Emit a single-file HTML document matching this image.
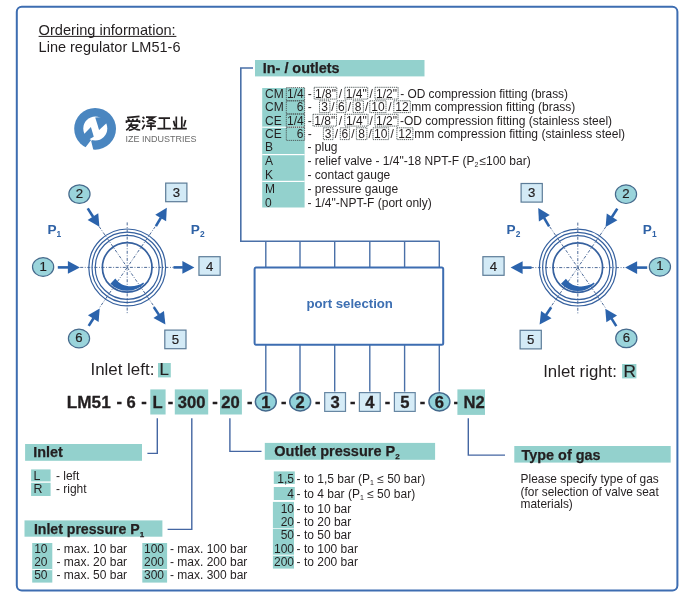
<!DOCTYPE html><html><head><meta charset="utf-8"><style>html,body{margin:0;padding:0;background:#fff;overflow:hidden;}svg{display:block;will-change:transform;}text{font-family:"Liberation Sans", sans-serif;}</style></head><body>
<svg width="691" height="598" viewBox="0 0 691 598">
<rect x="16.8" y="6.8" width="660.6" height="583.8" rx="5" ry="5" fill="none" stroke="#3d6db1" stroke-width="2"/>
<text x="38.6" y="34.7" font-size="14.6" fill="#231f20">Ordering information:</text>
<line x1="38.6" y1="36.4" x2="176.4" y2="36.4" stroke="#231f20" stroke-width="1"/>
<text x="38.6" y="51.9" font-size="14.5" fill="#231f20">Line regulator LM51-6</text>
<circle cx="95.1" cy="128.8" r="20.9" fill="#4a86c0"/>
<circle cx="95.3" cy="128.4" r="12" fill="#fff"/>
<polygon points="95.2,117.6 99.1,129.9 107.5,122.2 104,117" fill="#4a86c0"/>
<polygon points="83.2,135 90.9,126.9 93.8,136.8 88,140" fill="#4a86c0"/>
<polygon points="84.8,148.2 94.4,135.8 91.2,141.2 93.6,151" fill="#fff"/>
<g fill="none" stroke="#231f20" stroke-width="1.7" stroke-linecap="butt">
<path d="M127,117.6 L139.5,116.4 M128.2,118.8 L129.4,120.8 M132.6,118.8 L133.2,120.8 M137.6,118.6 L136.4,120.8 M126.5,123 V121.2 H139.5 V123 M128.4,125.2 H138.4 M131.6,122.4 Q130.4,127.6 126.2,130.2 M130.4,125.2 Q134,129.6 140.2,130 M138,125.2 Q134.6,129.4 128.8,130.4"/>
<path d="M142.6,117 L144.4,118.6 M142.2,120.6 L144,122.2 M142.2,129.4 L144.8,124.6 M146,117.2 H154.4 L146.8,121.9 M148.4,118.4 L155.9,121.9 M147.4,123.4 H154.6 M146.2,126.1 H155.9 M151,122.2 V130.2"/>
<path d="M158.6,118.1 H170 M164.3,118.1 V128.6 M157.4,128.6 H170.9"/>
<path d="M176.3,116.4 V128.6 M181.8,116.4 V128.6 M173.6,120.8 L175,126.4 M185.6,120 L183.8,126.4 M172.6,128.6 H186.8"/>
</g>
<text x="125.4" y="141.6" font-size="9.4" fill="#6a6a6a" textLength="71" lengthAdjust="spacingAndGlyphs">IZE INDUSTRIES</text>
<rect x="255" y="60" width="169.5" height="16.4" fill="#93d1cd"/>
<text x="262.8" y="72.8" font-size="14.4" font-weight="bold" fill="#231f20" stroke="#231f20" stroke-width="0.25">In- / outlets</text>
<polyline points="253,68 240.8,68 240.8,241.3 439.5,241.3" fill="none" stroke="#4a70a8" stroke-width="1.6"/>
<rect x="262.2" y="88" width="42.4" height="119.5" fill="#93d1cd"/>
<rect x="262.2" y="126.60000000000001" width="42.4" height="1.2" fill="#fff"/>
<rect x="262.2" y="154.0" width="42.4" height="1.2" fill="#fff"/>
<rect x="262.2" y="180.8" width="42.4" height="1.2" fill="#fff"/>
<text x="265" y="97.5" font-size="12" fill="#231f20">CM</text>
<text x="265" y="111.0" font-size="12" fill="#231f20">CM</text>
<text x="265" y="124.5" font-size="12" fill="#231f20">CE</text>
<text x="265" y="138.0" font-size="12" fill="#231f20">CE</text>
<text x="265" y="150.6" font-size="12" fill="#231f20">B</text>
<text x="265" y="165.2" font-size="12" fill="#231f20">A</text>
<text x="265" y="179.2" font-size="12" fill="#231f20">K</text>
<text x="265" y="192.8" font-size="12" fill="#231f20">M</text>
<text x="265" y="206.7" font-size="12" fill="#231f20">0</text>
<rect x="286.3" y="87.6" width="18.30000000000001" height="13.2" fill="none" stroke="#4a5454" stroke-width="0.9" stroke-dasharray="1.3,0.8"/>
<text x="295.45000000000005" y="97.5" font-size="12" text-anchor="middle" fill="#231f20">1/4</text>
<text x="307.8" y="97.5" font-size="12" fill="#231f20">-</text>
<rect x="286.3" y="100.8" width="18.30000000000001" height="13.2" fill="none" stroke="#4a5454" stroke-width="0.9" stroke-dasharray="1.3,0.8"/>
<text x="303.40000000000003" y="111.0" font-size="12" text-anchor="end" fill="#231f20">6</text>
<text x="307.8" y="111.0" font-size="12" fill="#231f20">-</text>
<rect x="286.3" y="114.0" width="18.30000000000001" height="13.2" fill="none" stroke="#4a5454" stroke-width="0.9" stroke-dasharray="1.3,0.8"/>
<text x="295.45000000000005" y="124.5" font-size="12" text-anchor="middle" fill="#231f20">1/4</text>
<text x="307.8" y="124.5" font-size="12" fill="#231f20">-</text>
<rect x="286.3" y="127.19999999999999" width="18.30000000000001" height="13.2" fill="none" stroke="#4a5454" stroke-width="0.9" stroke-dasharray="1.3,0.8"/>
<text x="303.40000000000003" y="138.0" font-size="12" text-anchor="end" fill="#231f20">6</text>
<text x="307.8" y="138.0" font-size="12" fill="#231f20">-</text>
<rect x="314.2" y="87.3" width="22.600000000000023" height="11.8" fill="none" stroke="#4a5454" stroke-width="0.9" stroke-dasharray="1.3,0.8"/>
<text x="325.5" y="97.5" font-size="12" text-anchor="middle" fill="#231f20">1/8&quot;</text>
<text x="338.8" y="97.5" font-size="12" fill="#231f20">/</text>
<rect x="344.8" y="87.3" width="22.899999999999977" height="11.8" fill="none" stroke="#4a5454" stroke-width="0.9" stroke-dasharray="1.3,0.8"/>
<text x="356.25" y="97.5" font-size="12" text-anchor="middle" fill="#231f20">1/4&quot;</text>
<text x="369.4" y="97.5" font-size="12" fill="#231f20">/</text>
<rect x="375" y="87.3" width="23.100000000000023" height="11.8" fill="none" stroke="#4a5454" stroke-width="0.9" stroke-dasharray="1.3,0.8"/>
<text x="386.55" y="97.5" font-size="12" text-anchor="middle" fill="#231f20">1/2&quot;</text>
<text x="400.2" y="97.5" font-size="11.9" fill="#231f20">- OD compression fitting (brass)</text>
<rect x="319.5" y="100.8" width="10.399999999999977" height="11.8" fill="none" stroke="#4a5454" stroke-width="0.9" stroke-dasharray="1.3,0.8"/>
<text x="324.7" y="111.0" font-size="12" text-anchor="middle" fill="#231f20">3</text>
<text x="331.3" y="111.0" font-size="12" fill="#231f20">/</text>
<rect x="336.8" y="100.8" width="9.199999999999989" height="11.8" fill="none" stroke="#4a5454" stroke-width="0.9" stroke-dasharray="1.3,0.8"/>
<text x="341.4" y="111.0" font-size="12" text-anchor="middle" fill="#231f20">6</text>
<text x="347.8" y="111.0" font-size="12" fill="#231f20">/</text>
<rect x="353" y="100.8" width="10.399999999999977" height="11.8" fill="none" stroke="#4a5454" stroke-width="0.9" stroke-dasharray="1.3,0.8"/>
<text x="358.2" y="111.0" font-size="12" text-anchor="middle" fill="#231f20">8</text>
<text x="365" y="111.0" font-size="12" fill="#231f20">/</text>
<rect x="369.8" y="100.8" width="16.19999999999999" height="11.8" fill="none" stroke="#4a5454" stroke-width="0.9" stroke-dasharray="1.3,0.8"/>
<text x="377.9" y="111.0" font-size="12" text-anchor="middle" fill="#231f20">10</text>
<text x="388.2" y="111.0" font-size="12" fill="#231f20">/</text>
<rect x="393.8" y="100.8" width="16.5" height="11.8" fill="none" stroke="#4a5454" stroke-width="0.9" stroke-dasharray="1.3,0.8"/>
<text x="402.05" y="111.0" font-size="12" text-anchor="middle" fill="#231f20">12</text>
<text x="411.3" y="111.0" font-size="12" fill="#231f20">mm compression fitting (brass)</text>
<rect x="313" y="114.3" width="23.5" height="11.8" fill="none" stroke="#4a5454" stroke-width="0.9" stroke-dasharray="1.3,0.8"/>
<text x="324.75" y="124.5" font-size="12" text-anchor="middle" fill="#231f20">1/8&quot;</text>
<text x="338.8" y="124.5" font-size="12" fill="#231f20">/</text>
<rect x="344.8" y="114.3" width="23.19999999999999" height="11.8" fill="none" stroke="#4a5454" stroke-width="0.9" stroke-dasharray="1.3,0.8"/>
<text x="356.4" y="124.5" font-size="12" text-anchor="middle" fill="#231f20">1/4&quot;</text>
<text x="369.6" y="124.5" font-size="12" fill="#231f20">/</text>
<rect x="375" y="114.3" width="23" height="11.8" fill="none" stroke="#4a5454" stroke-width="0.9" stroke-dasharray="1.3,0.8"/>
<text x="386.5" y="124.5" font-size="12" text-anchor="middle" fill="#231f20">1/2&quot;</text>
<text x="400" y="124.5" font-size="12.0" fill="#231f20">-OD compression fitting (stainless steel)</text>
<rect x="323.4" y="127.8" width="9.600000000000023" height="11.8" fill="none" stroke="#4a5454" stroke-width="0.9" stroke-dasharray="1.3,0.8"/>
<text x="328.2" y="138.0" font-size="12" text-anchor="middle" fill="#231f20">3</text>
<text x="334.8" y="138.0" font-size="12" fill="#231f20">/</text>
<rect x="340.3" y="127.8" width="9.199999999999989" height="11.8" fill="none" stroke="#4a5454" stroke-width="0.9" stroke-dasharray="1.3,0.8"/>
<text x="344.9" y="138.0" font-size="12" text-anchor="middle" fill="#231f20">6</text>
<text x="351.3" y="138.0" font-size="12" fill="#231f20">/</text>
<rect x="356.4" y="127.8" width="10.5" height="11.8" fill="none" stroke="#4a5454" stroke-width="0.9" stroke-dasharray="1.3,0.8"/>
<text x="361.65" y="138.0" font-size="12" text-anchor="middle" fill="#231f20">8</text>
<text x="368.6" y="138.0" font-size="12" fill="#231f20">/</text>
<rect x="373" y="127.8" width="15.600000000000023" height="11.8" fill="none" stroke="#4a5454" stroke-width="0.9" stroke-dasharray="1.3,0.8"/>
<text x="380.8" y="138.0" font-size="12" text-anchor="middle" fill="#231f20">10</text>
<text x="390.6" y="138.0" font-size="12" fill="#231f20">/</text>
<rect x="396.9" y="127.8" width="16.0" height="11.8" fill="none" stroke="#4a5454" stroke-width="0.9" stroke-dasharray="1.3,0.8"/>
<text x="404.9" y="138.0" font-size="12" text-anchor="middle" fill="#231f20">12</text>
<text x="414.2" y="138.0" font-size="12.05" fill="#231f20">mm compression fitting (stainless steel)</text>
<text x="307.5" y="150.6" font-size="12" fill="#231f20">- plug</text>
<text x="307.5" y="165.2" font-size="12" fill="#231f20">- relief valve - 1/4&quot;-18 NPT-F (P<tspan font-size="7" dy="2">2</tspan><tspan dy="-2" dx="1">≤100 bar)</tspan></text>
<text x="307.5" y="179.2" font-size="12" fill="#231f20">- contact gauge</text>
<text x="307.5" y="192.8" font-size="12" fill="#231f20">- pressure gauge</text>
<text x="307.5" y="206.7" font-size="12" fill="#231f20">- 1/4&quot;-NPT-F (port only)</text>
<line x1="265.8" y1="241.3" x2="265.8" y2="267.5" stroke="#4a70a8" stroke-width="1.4"/>
<line x1="265.8" y1="344" x2="265.8" y2="391.6" stroke="#4a70a8" stroke-width="1.4"/>
<line x1="300" y1="241.3" x2="300" y2="267.5" stroke="#4a70a8" stroke-width="1.4"/>
<line x1="300" y1="344" x2="300" y2="391.6" stroke="#4a70a8" stroke-width="1.4"/>
<line x1="334.7" y1="241.3" x2="334.7" y2="267.5" stroke="#4a70a8" stroke-width="1.4"/>
<line x1="334.7" y1="344" x2="334.7" y2="391.6" stroke="#4a70a8" stroke-width="1.4"/>
<line x1="369.8" y1="241.3" x2="369.8" y2="267.5" stroke="#4a70a8" stroke-width="1.4"/>
<line x1="369.8" y1="344" x2="369.8" y2="391.6" stroke="#4a70a8" stroke-width="1.4"/>
<line x1="404.6" y1="241.3" x2="404.6" y2="267.5" stroke="#4a70a8" stroke-width="1.4"/>
<line x1="404.6" y1="344" x2="404.6" y2="391.6" stroke="#4a70a8" stroke-width="1.4"/>
<line x1="439.3" y1="241.3" x2="439.3" y2="267.5" stroke="#4a70a8" stroke-width="1.4"/>
<line x1="439.3" y1="344" x2="439.3" y2="391.6" stroke="#4a70a8" stroke-width="1.4"/>
<rect x="254.6" y="267.4" width="188.6" height="77.3" rx="1.5" fill="#fff" stroke="#3d6db1" stroke-width="2"/>
<text x="349.7" y="308" font-size="13.2" font-weight="bold" text-anchor="middle" fill="#3d6fb2">port selection</text>
<line x1="80.2" y1="267.4" x2="173.7" y2="267.4" stroke="#3a5a8c" stroke-width="0.9" stroke-dasharray="3,1.6,0.9,1.6"/>
<line x1="127.2" y1="222.39999999999998" x2="127.2" y2="314.4" stroke="#3a5a8c" stroke-width="0.9" stroke-dasharray="3,1.6,0.9,1.6"/>
<line x1="99.16289127222078" y1="226.6057536632102" x2="155.23710872777923" y2="308.1942463367898" stroke="#3a5a8c" stroke-width="0.9" stroke-dasharray="3,1.6,0.9,1.6"/>
<line x1="155.23710872777923" y1="226.6057536632102" x2="99.16289127222078" y2="308.1942463367898" stroke="#3a5a8c" stroke-width="0.9" stroke-dasharray="3,1.6,0.9,1.6"/>
<circle cx="127.2" cy="267.4" r="38.4" fill="none" stroke="#36619f" stroke-width="1.2"/>
<circle cx="127.2" cy="267.4" r="35.2" fill="none" stroke="#36619f" stroke-width="1.2"/>
<circle cx="127.2" cy="267.4" r="32.0" fill="none" stroke="#36619f" stroke-width="1.2"/>
<circle cx="127.2" cy="267.4" r="24.8" fill="none" stroke="#36619f" stroke-width="1.7"/>
<path d="M110.37,283.66 A23.4,23.4 0 0 0 144.03,283.66 L143.29,282.40 C135.20,288.20 121.20,287.80 115.35,278.45 Z" fill="#2b63ac"/>
<line x1="57.80" y1="267.40" x2="68.40" y2="267.40" stroke="#2b63ac" stroke-width="2.6"/>
<polygon points="79.90,267.40 67.90,273.70 67.90,261.10" fill="#2b63ac"/>
<line x1="173.50" y1="267.40" x2="182.90" y2="267.40" stroke="#2b63ac" stroke-width="2.6"/>
<polygon points="194.40,267.40 182.40,273.70 182.40,261.10" fill="#2b63ac"/>
<line x1="87.70" y1="208.40" x2="93.21" y2="217.01" stroke="#2b63ac" stroke-width="2.6"/>
<polygon points="99.40,226.70 87.63,219.98 98.24,213.20" fill="#2b63ac"/>
<line x1="155.90" y1="226.10" x2="160.94" y2="217.59" stroke="#2b63ac" stroke-width="2.6"/>
<polygon points="166.80,207.70 166.10,221.24 155.26,214.81" fill="#2b63ac"/>
<line x1="88.70" y1="325.90" x2="93.55" y2="318.22" stroke="#2b63ac" stroke-width="2.6"/>
<polygon points="99.70,308.50 98.61,322.01 87.96,315.28" fill="#2b63ac"/>
<line x1="153.80" y1="307.10" x2="159.00" y2="314.85" stroke="#2b63ac" stroke-width="2.6"/>
<polygon points="165.40,324.40 153.48,317.94 163.95,310.92" fill="#2b63ac"/>
<line x1="530.8" y1="267.6" x2="624.3" y2="267.6" stroke="#3a5a8c" stroke-width="0.9" stroke-dasharray="3,1.6,0.9,1.6"/>
<line x1="577.8" y1="222.60000000000002" x2="577.8" y2="314.6" stroke="#3a5a8c" stroke-width="0.9" stroke-dasharray="3,1.6,0.9,1.6"/>
<line x1="549.7628912722207" y1="226.80575366321025" x2="605.8371087277792" y2="308.3942463367898" stroke="#3a5a8c" stroke-width="0.9" stroke-dasharray="3,1.6,0.9,1.6"/>
<line x1="605.8371087277792" y1="226.80575366321025" x2="549.7628912722207" y2="308.3942463367898" stroke="#3a5a8c" stroke-width="0.9" stroke-dasharray="3,1.6,0.9,1.6"/>
<circle cx="577.8" cy="267.6" r="38.4" fill="none" stroke="#36619f" stroke-width="1.2"/>
<circle cx="577.8" cy="267.6" r="35.2" fill="none" stroke="#36619f" stroke-width="1.2"/>
<circle cx="577.8" cy="267.6" r="32.0" fill="none" stroke="#36619f" stroke-width="1.2"/>
<circle cx="577.8" cy="267.6" r="24.8" fill="none" stroke="#36619f" stroke-width="1.7"/>
<path d="M560.97,283.86 A23.4,23.4 0 0 0 594.63,283.86 L593.89,282.60 C585.80,288.40 571.80,288.00 565.95,278.65 Z" fill="#2b63ac"/>
<line x1="647.20" y1="267.60" x2="636.60" y2="267.60" stroke="#2b63ac" stroke-width="2.6"/>
<polygon points="625.10,267.60 637.10,261.30 637.10,273.90" fill="#2b63ac"/>
<line x1="531.50" y1="267.60" x2="522.10" y2="267.60" stroke="#2b63ac" stroke-width="2.6"/>
<polygon points="510.60,267.60 522.60,261.30 522.60,273.90" fill="#2b63ac"/>
<line x1="617.30" y1="208.60" x2="611.79" y2="217.21" stroke="#2b63ac" stroke-width="2.6"/>
<polygon points="605.60,226.90 606.76,213.40 617.37,220.18" fill="#2b63ac"/>
<line x1="549.10" y1="226.30" x2="544.06" y2="217.79" stroke="#2b63ac" stroke-width="2.6"/>
<polygon points="538.20,207.90 549.74,215.01 538.90,221.44" fill="#2b63ac"/>
<line x1="616.30" y1="326.10" x2="611.45" y2="318.42" stroke="#2b63ac" stroke-width="2.6"/>
<polygon points="605.30,308.70 617.04,315.48 606.39,322.21" fill="#2b63ac"/>
<line x1="551.20" y1="307.30" x2="546.00" y2="315.05" stroke="#2b63ac" stroke-width="2.6"/>
<polygon points="539.60,324.60 541.05,311.12 551.52,318.14" fill="#2b63ac"/>
<ellipse cx="43.1" cy="267" rx="10.6" ry="9.3" fill="#9ad4db" stroke="#466a8c" stroke-width="1.2"/>
<text x="43.1" y="270.6" font-size="13.2" text-anchor="middle" fill="#231f20" stroke="#231f20" stroke-width="0.2">1</text>
<ellipse cx="79.45" cy="194.1" rx="10.6" ry="9.3" fill="#9ad4db" stroke="#466a8c" stroke-width="1.2"/>
<text x="79.45" y="197.7" font-size="13.2" text-anchor="middle" fill="#231f20" stroke="#231f20" stroke-width="0.2">2</text>
<ellipse cx="79" cy="338.5" rx="10.6" ry="9.3" fill="#9ad4db" stroke="#466a8c" stroke-width="1.2"/>
<text x="79" y="342.1" font-size="13.2" text-anchor="middle" fill="#231f20" stroke="#231f20" stroke-width="0.2">6</text>
<rect x="165.70000000000002" y="183.1" width="21.2" height="18.6" fill="#d3eaf6" stroke="#5c7c98" stroke-width="1.2"/>
<text x="176.3" y="196.9" font-size="13.2" text-anchor="middle" fill="#231f20" stroke="#231f20" stroke-width="0.2">3</text>
<rect x="198.95000000000002" y="256.7" width="21.2" height="18.6" fill="#d3eaf6" stroke="#5c7c98" stroke-width="1.2"/>
<text x="209.55" y="270.5" font-size="13.2" text-anchor="middle" fill="#231f20" stroke="#231f20" stroke-width="0.2">4</text>
<rect x="164.8" y="330.09999999999997" width="21.2" height="18.6" fill="#d3eaf6" stroke="#5c7c98" stroke-width="1.2"/>
<text x="175.4" y="343.9" font-size="13.2" text-anchor="middle" fill="#231f20" stroke="#231f20" stroke-width="0.2">5</text>
<ellipse cx="659.9" cy="266.8" rx="10.6" ry="9.3" fill="#9ad4db" stroke="#466a8c" stroke-width="1.2"/>
<text x="659.9" y="270.40000000000003" font-size="13.2" text-anchor="middle" fill="#231f20" stroke="#231f20" stroke-width="0.2">1</text>
<ellipse cx="626" cy="194.2" rx="10.6" ry="9.3" fill="#9ad4db" stroke="#466a8c" stroke-width="1.2"/>
<text x="626" y="197.79999999999998" font-size="13.2" text-anchor="middle" fill="#231f20" stroke="#231f20" stroke-width="0.2">2</text>
<ellipse cx="626.3" cy="338.4" rx="10.6" ry="9.3" fill="#9ad4db" stroke="#466a8c" stroke-width="1.2"/>
<text x="626.3" y="342.0" font-size="13.2" text-anchor="middle" fill="#231f20" stroke="#231f20" stroke-width="0.2">6</text>
<rect x="521.1" y="183.5" width="21.2" height="18.6" fill="#d3eaf6" stroke="#5c7c98" stroke-width="1.2"/>
<text x="531.7" y="197.3" font-size="13.2" text-anchor="middle" fill="#231f20" stroke="#231f20" stroke-width="0.2">3</text>
<rect x="482.9" y="256.7" width="21.2" height="18.6" fill="#d3eaf6" stroke="#5c7c98" stroke-width="1.2"/>
<text x="493.5" y="270.5" font-size="13.2" text-anchor="middle" fill="#231f20" stroke="#231f20" stroke-width="0.2">4</text>
<rect x="520.1" y="330.3" width="21.2" height="18.6" fill="#d3eaf6" stroke="#5c7c98" stroke-width="1.2"/>
<text x="530.7" y="344.1" font-size="13.2" text-anchor="middle" fill="#231f20" stroke="#231f20" stroke-width="0.2">5</text>
<text x="47.4" y="233.8" font-size="13.6" font-weight="bold" fill="#2f62a6">P<tspan font-size="8.4" dy="3">1</tspan></text>
<text x="190.8" y="234.2" font-size="13.6" font-weight="bold" fill="#2f62a6">P<tspan font-size="8.4" dy="3">2</tspan></text>
<text x="506.6" y="234.2" font-size="13.6" font-weight="bold" fill="#2f62a6">P<tspan font-size="8.4" dy="3">2</tspan></text>
<text x="642.8" y="234.2" font-size="13.6" font-weight="bold" fill="#2f62a6">P<tspan font-size="8.4" dy="3">1</tspan></text>
<text x="90.5" y="375.4" font-size="16.9" fill="#231f20">Inlet left:</text>
<rect x="158" y="363" width="12.8" height="14.4" fill="#93d1cd"/>
<text x="159.6" y="375.4" font-size="16.9" fill="#231f20" stroke="#231f20" stroke-width="0.2">L</text>
<text x="543.2" y="376.8" font-size="16.8" fill="#231f20">Inlet right:</text>
<rect x="622.1" y="364" width="14.3" height="14.4" fill="#93d1cd"/>
<text x="623.4" y="376.8" font-size="17.2" fill="#231f20" stroke="#231f20" stroke-width="0.2">R</text>
<text x="66.8" y="407.5" font-size="17.2" font-weight="bold" fill="#231f20" stroke="#231f20" stroke-width="0.3">LM51</text>
<text x="116.6" y="407.0" font-size="16.6" font-weight="bold" fill="#231f20" stroke="#231f20" stroke-width="0.3">-</text>
<text x="126.6" y="407.5" font-size="16.6" font-weight="bold" fill="#231f20" stroke="#231f20" stroke-width="0.3">6</text>
<text x="141.2" y="407.0" font-size="16.6" font-weight="bold" fill="#231f20" stroke="#231f20" stroke-width="0.3">-</text>
<rect x="150.3" y="389.4" width="15.3" height="25.1" fill="#93d1cd"/>
<text x="152.4" y="407.5" font-size="16.6" font-weight="bold" fill="#231f20" stroke="#231f20" stroke-width="0.3">L</text>
<text x="167.8" y="407.0" font-size="16.6" font-weight="bold" fill="#231f20" stroke="#231f20" stroke-width="0.3">-</text>
<rect x="174.8" y="389.4" width="33.4" height="25.1" fill="#93d1cd"/>
<text x="177.8" y="407.5" font-size="16.6" font-weight="bold" fill="#231f20" stroke="#231f20" stroke-width="0.3">300</text>
<text x="212.2" y="407.0" font-size="16.6" font-weight="bold" fill="#231f20" stroke="#231f20" stroke-width="0.3">-</text>
<rect x="220" y="389.4" width="21.9" height="25.1" fill="#93d1cd"/>
<text x="221.2" y="407.5" font-size="16.6" font-weight="bold" fill="#231f20" stroke="#231f20" stroke-width="0.3">20</text>
<text x="247" y="407.0" font-size="16.6" font-weight="bold" fill="#231f20" stroke="#231f20" stroke-width="0.3">-</text>
<ellipse cx="265.8" cy="401.8" rx="10.45" ry="9.1" fill="#91d2da" stroke="#44698c" stroke-width="1.5"/>
<text x="265.8" y="407.90000000000003" font-size="16.6" font-weight="bold" text-anchor="middle" fill="#231f20" stroke="#231f20" stroke-width="0.3">1</text>
<ellipse cx="300.2" cy="401.8" rx="10.45" ry="9.1" fill="#91d2da" stroke="#44698c" stroke-width="1.5"/>
<text x="300.2" y="407.90000000000003" font-size="16.6" font-weight="bold" text-anchor="middle" fill="#231f20" stroke="#231f20" stroke-width="0.3">2</text>
<rect x="324.70000000000005" y="392.6" width="20.8" height="18.8" fill="#d6ecf7" stroke="#6787a3" stroke-width="1.2"/>
<text x="335.1" y="407.9" font-size="16.6" font-weight="bold" text-anchor="middle" fill="#231f20" stroke="#231f20" stroke-width="0.3">3</text>
<rect x="359.40000000000003" y="392.6" width="20.8" height="18.8" fill="#d6ecf7" stroke="#6787a3" stroke-width="1.2"/>
<text x="369.8" y="407.9" font-size="16.6" font-weight="bold" text-anchor="middle" fill="#231f20" stroke="#231f20" stroke-width="0.3">4</text>
<rect x="394.40000000000003" y="392.6" width="20.8" height="18.8" fill="#d6ecf7" stroke="#6787a3" stroke-width="1.2"/>
<text x="404.8" y="407.9" font-size="16.6" font-weight="bold" text-anchor="middle" fill="#231f20" stroke="#231f20" stroke-width="0.3">5</text>
<ellipse cx="439.4" cy="401.8" rx="10.45" ry="9.1" fill="#91d2da" stroke="#44698c" stroke-width="1.5"/>
<text x="439.4" y="407.90000000000003" font-size="16.6" font-weight="bold" text-anchor="middle" fill="#231f20" stroke="#231f20" stroke-width="0.3">6</text>
<text x="280.9" y="407.0" font-size="16.6" font-weight="bold" fill="#231f20" stroke="#231f20" stroke-width="0.3">-</text>
<text x="315.1" y="407.0" font-size="16.6" font-weight="bold" fill="#231f20" stroke="#231f20" stroke-width="0.3">-</text>
<text x="349.9" y="407.0" font-size="16.6" font-weight="bold" fill="#231f20" stroke="#231f20" stroke-width="0.3">-</text>
<text x="384.8" y="407.0" font-size="16.6" font-weight="bold" fill="#231f20" stroke="#231f20" stroke-width="0.3">-</text>
<text x="419.7" y="407.0" font-size="16.6" font-weight="bold" fill="#231f20" stroke="#231f20" stroke-width="0.3">-</text>
<text x="453.6" y="407.0" font-size="16.6" font-weight="bold" fill="#231f20" stroke="#231f20" stroke-width="0.3">-</text>
<rect x="457.4" y="389.4" width="27.6" height="25.5" fill="#93d1cd"/>
<text x="463.6" y="407.7" font-size="16.6" font-weight="bold" fill="#231f20" stroke="#231f20" stroke-width="0.3">N2</text>
<polyline points="157.3,418.2 157.3,453.4 147.4,453.4" fill="none" stroke="#4466a2" stroke-width="1.4"/>
<polyline points="191.8,418.2 191.8,529.4 167.6,529.4" fill="none" stroke="#4466a2" stroke-width="1.4"/>
<polyline points="229.9,418.2 229.9,451.4 261.5,451.4" fill="none" stroke="#4466a2" stroke-width="1.4"/>
<polyline points="468.3,418.2 468.3,455.1 505,455.1" fill="none" stroke="#4466a2" stroke-width="1.4"/>
<rect x="25.1" y="444" width="116.9" height="16.8" fill="#93d1cd"/>
<text x="33.2" y="457.2" font-size="14.4" font-weight="bold" fill="#231f20" stroke="#231f20" stroke-width="0.25">Inlet</text>
<rect x="31.1" y="469.4" width="19.5" height="12" fill="#93d1cd"/>
<rect x="31.1" y="482.8" width="19.5" height="13.2" fill="#93d1cd"/>
<text x="33.4" y="479.8" font-size="12.4" fill="#231f20">L</text>
<text x="33.4" y="493" font-size="12.4" fill="#231f20">R</text>
<text x="55.9" y="479.8" font-size="12" fill="#231f20">- left</text>
<text x="55.9" y="493" font-size="12" fill="#231f20">- right</text>
<rect x="24.5" y="520.4" width="137.9" height="16.3" fill="#93d1cd"/>
<text x="33.9" y="533.5" font-size="14.1" font-weight="bold" fill="#231f20" stroke="#231f20" stroke-width="0.25">Inlet pressure P<tspan font-size="8" dy="3">1</tspan></text>
<rect x="32.2" y="543" width="20.1" height="39.6" fill="#93d1cd"/>
<rect x="32.2" y="569.0" width="20.1" height="1.2" fill="#fff"/>
<rect x="142.3" y="543" width="24.8" height="39.6" fill="#93d1cd"/>
<rect x="142.3" y="569.0" width="24.8" height="1.2" fill="#fff"/>
<text x="34.2" y="553.1" font-size="12" fill="#231f20">10</text>
<text x="56.4" y="553.1" font-size="12" fill="#231f20">- max. 10 bar</text>
<text x="144" y="553.1" font-size="12" fill="#231f20">100</text>
<text x="170" y="553.1" font-size="12" fill="#231f20">- max. 100 bar</text>
<text x="34.2" y="566.25" font-size="12" fill="#231f20">20</text>
<text x="56.4" y="566.25" font-size="12" fill="#231f20">- max. 20 bar</text>
<text x="144" y="566.25" font-size="12" fill="#231f20">200</text>
<text x="170" y="566.25" font-size="12" fill="#231f20">- max. 200 bar</text>
<text x="34.2" y="579.4" font-size="12" fill="#231f20">50</text>
<text x="56.4" y="579.4" font-size="12" fill="#231f20">- max. 50 bar</text>
<text x="144" y="579.4" font-size="12" fill="#231f20">300</text>
<text x="170" y="579.4" font-size="12" fill="#231f20">- max. 300 bar</text>
<rect x="264.8" y="442.9" width="170.3" height="16.9" fill="#93d1cd"/>
<text x="274.3" y="456" font-size="14.5" font-weight="bold" fill="#231f20" stroke="#231f20" stroke-width="0.25">Outlet pressure P<tspan font-size="8" dy="3">2</tspan></text>
<rect x="273.8" y="471.4" width="21" height="12.5" fill="#93d1cd"/>
<rect x="273.8" y="487" width="21" height="13" fill="#93d1cd"/>
<rect x="272.9" y="501.9" width="21.1" height="26.4" fill="#93d1cd"/>
<rect x="272.9" y="529" width="21.1" height="39.6" fill="#93d1cd"/>
<rect x="272.9" y="554.7" width="21.1" height="1" fill="#fff"/>
<text x="294" y="482.5" font-size="12" text-anchor="end" fill="#231f20">1,5</text>
<text x="296.6" y="482.5" font-size="12" fill="#231f20">- to 1,5 bar (P<tspan font-size="7" dy="2">1</tspan><tspan dy="-2"> ≤ 50 bar)</tspan></text>
<text x="294" y="498" font-size="12" text-anchor="end" fill="#231f20">4</text>
<text x="296.6" y="498" font-size="12" fill="#231f20">- to 4 bar (P<tspan font-size="7" dy="2">1</tspan><tspan dy="-2"> ≤ 50 bar)</tspan></text>
<text x="294" y="513.3" font-size="12" text-anchor="end" fill="#231f20">10</text>
<text x="296.6" y="513.3" font-size="12" fill="#231f20">- to 10 bar</text>
<text x="294" y="526.2" font-size="12" text-anchor="end" fill="#231f20">20</text>
<text x="296.6" y="526.2" font-size="12" fill="#231f20">- to 20 bar</text>
<text x="294" y="539.2" font-size="12" text-anchor="end" fill="#231f20">50</text>
<text x="296.6" y="539.2" font-size="12" fill="#231f20">- to 50 bar</text>
<text x="294" y="553.2" font-size="12" text-anchor="end" fill="#231f20">100</text>
<text x="296.6" y="553.2" font-size="12" fill="#231f20">- to 100 bar</text>
<text x="294" y="566.1" font-size="12" text-anchor="end" fill="#231f20">200</text>
<text x="296.6" y="566.1" font-size="12" fill="#231f20">- to 200 bar</text>
<rect x="514.3" y="446" width="156.4" height="16.6" fill="#93d1cd"/>
<text x="521.6" y="459.5" font-size="14.4" font-weight="bold" fill="#231f20" stroke="#231f20" stroke-width="0.25">Type of gas</text>
<text x="520.6" y="483.2" font-size="11.9" fill="#231f20">Please specify type of gas</text>
<text x="520.6" y="495.7" font-size="11.9" fill="#231f20">(for selection of valve seat</text>
<text x="520.6" y="508.2" font-size="11.9" fill="#231f20">materials)</text>
</svg></body></html>
